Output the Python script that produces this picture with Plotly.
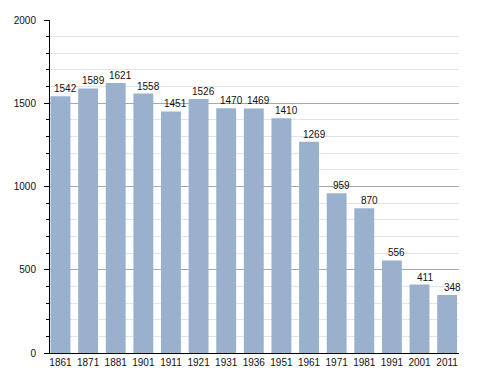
import plotly.graph_objects as go

years = ["1861", "1871", "1881", "1901", "1911", "1921", "1931", "1936",
         "1951", "1961", "1971", "1981", "1991", "2001", "2011"]
population = [1542, 1589, 1621, 1558, 1451, 1526, 1470, 1469,
              1410, 1269, 959, 870, 556, 411, 348]

bar_color = "#99b1cc"
font_family = "Liberation Sans, Arial, sans-serif"

fig = go.Figure()
fig.add_trace(go.Bar(
    x=years, y=population,
    marker=dict(color=bar_color, line=dict(width=0)),
    width=0.72,
    hoverinfo="x+y",
))

for i, val in enumerate(population):
    fig.add_annotation(
        x=i, y=val, text=str(val), showarrow=False,
        xref="x", yref="y",
        xanchor="center", yanchor="bottom", xshift=5, yshift=0,
        font=dict(family=font_family, size=10, color="#111"),
    )

# the page body adds an 8px offset; margins compensate for it
fig.update_layout(
    width=488, height=373,
    margin=dict(l=42, r=37, t=12, b=28, autoexpand=False),
    paper_bgcolor="white", plot_bgcolor="white",
    showlegend=False,
    font=dict(family=font_family, size=10, color="#111"),
)
fig.update_xaxes(
    type="category",
    range=[-0.38, 14.43],
    showgrid=False,
    showline=True, linecolor="black", linewidth=1,
    ticks="", tickfont=dict(size=10, color="#111"),
    automargin=False,
    fixedrange=True,
)
fig.update_yaxes(
    range=[0, 2000],
    tickvals=[0, 500, 1000, 1500, 2000],
    showgrid=True, gridcolor="#a8a8a8", gridwidth=1,
    showline=True, linecolor="black", linewidth=1,
    ticks="outside", ticklen=5, tickcolor="black",
    tickfont=dict(size=10, color="#111"),
    ticklabelstandoff=6,
    zeroline=False,
    automargin=False,
    minor=dict(dtick=100, showgrid=True, gridcolor="#e4e4e4",
               ticks="outside", ticklen=3, tickcolor="black"),
    fixedrange=True,
)

fig.write_html("out.html")
